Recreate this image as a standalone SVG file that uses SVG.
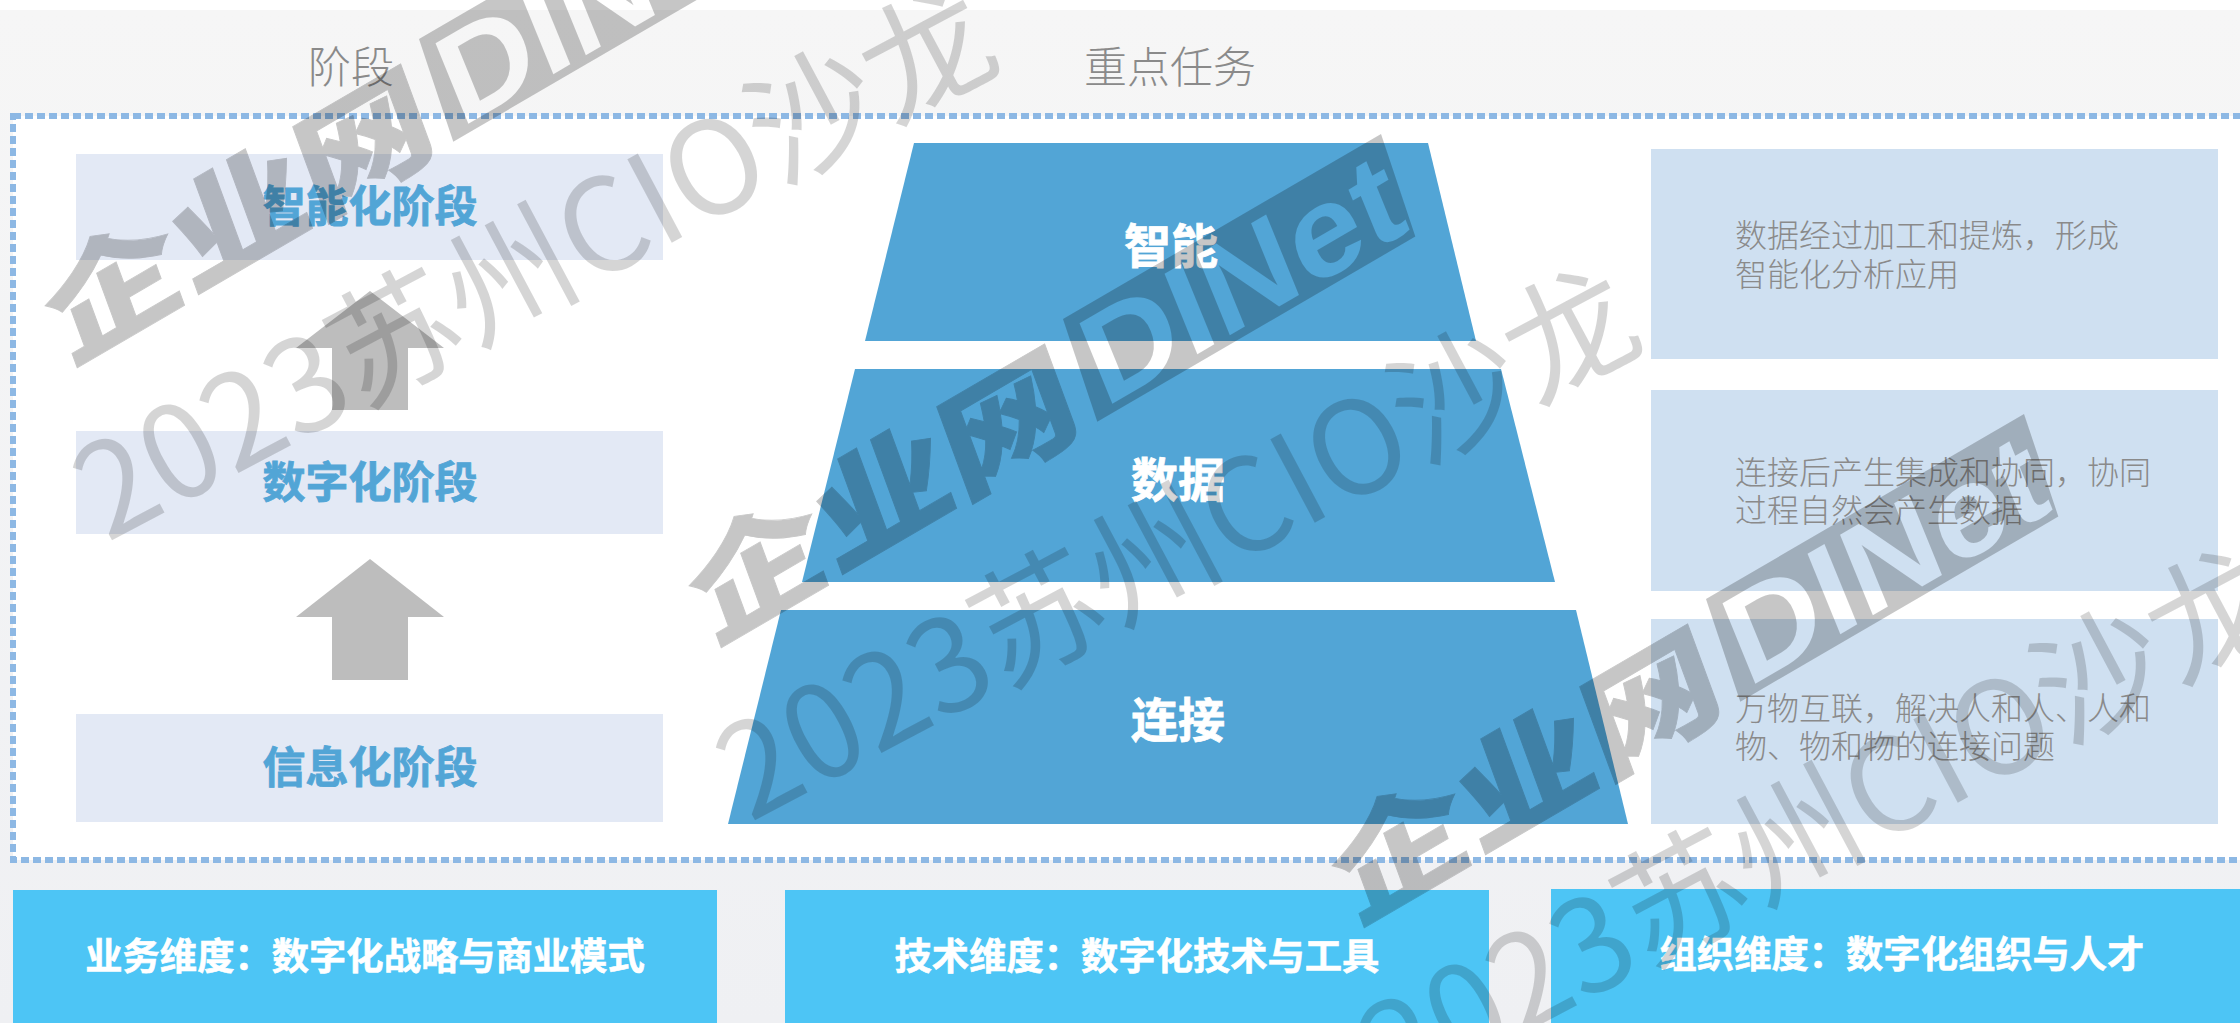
<svg xmlns="http://www.w3.org/2000/svg" width="2240" height="1023" viewBox="0 0 2240 1023">
<defs>
<linearGradient id="bg" x1="0" y1="0" x2="0" y2="1"><stop offset="0" stop-color="#f6f6f6"/><stop offset="1" stop-color="#eff0f3"/></linearGradient>
<mask id="netmask" maskUnits="userSpaceOnUse" x="380" y="-130" width="460" height="160">
<rect x="380" y="-130" width="460" height="160" fill="#fff"/>
<text x="452" y="-8" class="logol" fill="#000" transform="skewX(-8)" textLength="355" lengthAdjust="spacingAndGlyphs">DINet</text>
</mask>
<g id="logo">
<text x="-8" y="-2" class="logoc" transform="skewX(-10) scale(1,.82)" textLength="435" lengthAdjust="spacingAndGlyphs">企业网</text>
<polygon points="440,0 808,0 830,-106 462,-106" mask="url(#netmask)"/>
</g>
<text id="wmtext" class="wmt">2023苏州CIO沙龙</text>
</defs>
<style>
text{font-family:"Noto Sans CJK SC","Noto Sans",sans-serif}
.head{font-size:43px;fill:#8a8a8a;text-anchor:middle;font-weight:300}
.stage{fill:#e3e9f5}
.stxt{font-size:43px;font-weight:700;fill:#52a5d6;stroke:#52a5d6;stroke-width:.8px;text-anchor:middle}
.trap{fill:#52a5d6}
.ttxt{font-size:47px;font-weight:700;fill:#fff;stroke:#fff;stroke-width:.8px;text-anchor:middle}
.desc{fill:#cfe0f1}
.dtxt{font-size:32px;fill:#8a8a8a;font-weight:300}
.arrow{fill:#bdbdbd}
.bar{fill:#4dc5f5}
.btxt{font-size:37.3px;font-weight:700;fill:#fff;stroke:#fff;stroke-width:.6px;text-anchor:middle}
.logoc{font-size:140px;font-weight:900;stroke:#000;stroke-width:1px}
.logol{font-family:"Liberation Sans",sans-serif;font-size:125px;font-weight:700}
.wmt{font-family:"Noto Sans CJK SC","Noto Sans",sans-serif;font-size:129px;font-weight:400}
.wmlogo{opacity:.22}
.wmtx{opacity:.16}
</style>
<rect width="2240" height="1023" fill="#fff"/>
<rect y="10" width="2240" height="1013" fill="url(#bg)"/>
<g id="frame"><rect x="13" y="116" width="2240" height="744" fill="#fff" stroke="#8db8e4" stroke-width="6" stroke-dasharray="8 4"/></g>
<g id="head-stage"><text x="351" y="83" class="head">阶段</text></g>
<g id="head-task"><text x="1170" y="83" class="head">重点任务</text></g>
<g id="stage-smart"><rect x="76" y="154" width="587" height="106" class="stage"/><text x="370" y="222" class="stxt">智能化阶段</text></g>
<g id="stage-digital"><rect x="76" y="431" width="587" height="103" class="stage"/><text x="370" y="498" class="stxt">数字化阶段</text></g>
<g id="stage-info"><rect x="76" y="714" width="587" height="108" class="stage"/><text x="370" y="783" class="stxt">信息化阶段</text></g>
<g id="connectors">
<polygon class="arrow" points="370,291 444,348 408,348 408,410 332,410 332,348 296,348"/>
<polygon class="arrow" points="370,559 444,617 408,617 408,680 332,680 332,617 296,617"/>
</g>
<g id="layer-smart"><polygon class="trap" points="914,143 1428,143 1476,341 865,341"/><text x="1171" y="263" class="ttxt">智能</text></g>
<g id="layer-data"><polygon class="trap" points="855,369 1501,369 1555,582 802,582"/><text x="1178" y="497" class="ttxt">数据</text></g>
<g id="layer-link"><polygon class="trap" points="781,610 1576,610 1628,824 728,824"/><text x="1178" y="737" class="ttxt">连接</text></g>
<g id="desc-smart"><rect x="1651" y="149" width="567" height="210" class="desc"/><text class="dtxt"><tspan x="1735" y="247">数据经过加工和提炼，形成</tspan><tspan x="1735" y="286">智能化分析应用</tspan></text></g>
<g id="desc-data"><rect x="1651" y="390" width="567" height="201" class="desc"/><text class="dtxt"><tspan x="1735" y="484">连接后产生集成和协同，协同</tspan><tspan x="1735" y="522">过程自然会产生数据</tspan></text></g>
<g id="desc-link"><rect x="1651" y="619" width="567" height="205" class="desc"/><text class="dtxt"><tspan x="1735" y="720">万物互联，解决人和人、人和</tspan><tspan x="1735" y="758">物、物和物的连接问题</tspan></text></g>
<g id="dim-biz"><rect x="13" y="890" width="704" height="133" class="bar"/><text x="365" y="970" class="btxt">业务维度：数字化战略与商业模式</text></g>
<g id="dim-tech"><rect x="785" y="890" width="704" height="133" class="bar"/><text x="1137" y="970" class="btxt">技术维度：数字化技术与工具</text></g>
<g id="dim-org"><rect x="1551" y="889" width="689" height="134" class="bar"/><text x="1902" y="968" class="btxt">组织维度：数字化组织与人才</text></g>
<g id="watermarks">
<use href="#logo" class="wmlogo" transform="translate(73,363) rotate(-30.2)"/>
<use href="#logo" class="wmlogo" transform="translate(717,643) rotate(-30.2)"/>
<use href="#logo" class="wmlogo" transform="translate(1360,923) rotate(-30.2)"/>
<use href="#wmtext" class="wmtx" transform="translate(107,543) rotate(-28)"/>
<use href="#wmtext" class="wmtx" transform="translate(750,823) rotate(-28)"/>
<use href="#wmtext" class="wmtx" transform="translate(1393,1103) rotate(-28)"/>
</g>
</svg>
